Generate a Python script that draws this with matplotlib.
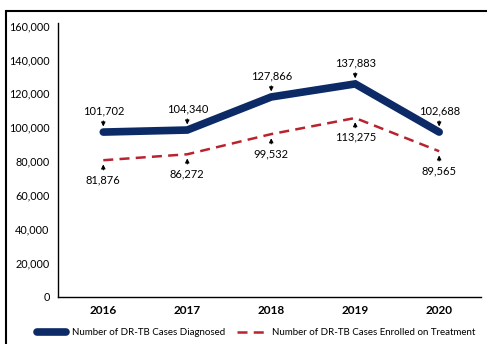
import matplotlib.pyplot as plt
from matplotlib.patches import Rectangle
from matplotlib.lines import Line2D

plt.rcParams['font.family'] = ['Lato', 'DejaVu Sans']

years = ['2016', '2017', '2018', '2019', '2020']
# plotted line heights (as drawn in the source chart)
diagnosed = [97200, 98400, 117900, 125600, 97200]
enrolled = [80600, 84100, 96000, 105500, 85900]
# printed data labels
diagnosed_labels = ['101,702', '104,340', '127,866', '137,883', '102,688']
enrolled_labels = ['81,876', '86,272', '99,532', '113,275', '89,565']

blue = '#0b2a66'
red = '#b8232f'

fig = plt.figure(figsize=(4.87, 3.44), dpi=100)
ax = fig.add_axes([0.119, 0.137, 0.869, 0.796])

x = list(range(len(years)))
ax.plot(x, diagnosed, color=blue, lw=5.5, solid_capstyle='round', solid_joinstyle='miter')
ax.plot(x, enrolled, color=red, lw=1.8, ls=(0, (4, 2.5)))

for i in x:
    ax.annotate(diagnosed_labels[i], xy=(i, diagnosed[i]), xytext=(0, 11),
                textcoords='offset points', ha='center', va='bottom', fontsize=8,
                arrowprops=dict(arrowstyle='-|>', color='black', lw=0.8,
                                mutation_scale=6, shrinkA=1, shrinkB=4))
    ax.annotate(enrolled_labels[i], xy=(i, enrolled[i]), xytext=(0, -10),
                textcoords='offset points', ha='center', va='top', fontsize=8,
                arrowprops=dict(arrowstyle='-|>', color='black', lw=0.8,
                                mutation_scale=6, shrinkA=1, shrinkB=3))

ax.set_xlim(-0.54, 4.5)
ax.set_ylim(0, 161500)
ax.set_yticks(range(0, 160001, 20000))
ax.set_yticklabels(['{:,}'.format(v) for v in range(0, 160001, 20000)], fontsize=7.8)
ax.set_xticks(x)
ax.set_xticklabels(years, fontsize=8.5, fontweight='bold')
ax.tick_params(length=0, pad=6)
ax.spines['top'].set_visible(False)
ax.spines['right'].set_visible(False)
ax.spines['left'].set_linewidth(1.0)
ax.spines['bottom'].set_linewidth(1.0)

handles = [Line2D([], [], color=blue, lw=5.5, solid_capstyle='round'),
           Line2D([], [], color=red, lw=1.8, ls=(0, (4, 2.5)))]
fig.legend(handles, ['Number of DR-TB Cases Diagnosed',
                     'Number of DR-TB Cases Enrolled on Treatment'],
           loc='center', bbox_to_anchor=(0.526, 0.032), ncol=2, frameon=False,
           fontsize=7, handlelength=3.0, columnspacing=1.2, handletextpad=0.6)

fig.patches.append(Rectangle((0.012, -0.1), 1.2, 1.068, transform=fig.transFigure,
                             fill=False, edgecolor='black', lw=1.5))

fig.savefig('out.png', dpi=100)
